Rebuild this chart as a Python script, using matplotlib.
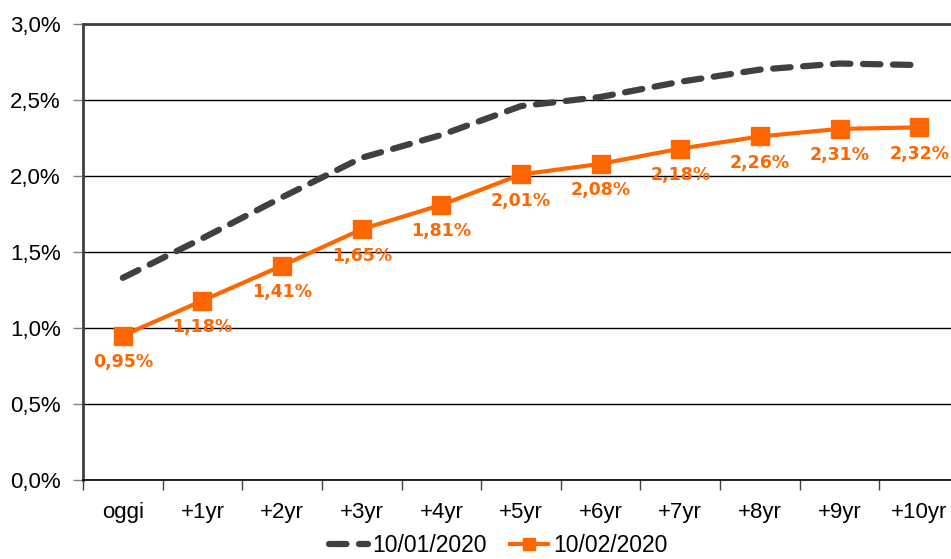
import numpy as np
import matplotlib
matplotlib.use('Agg')
import matplotlib.pyplot as plt
from matplotlib.ticker import FuncFormatter

# dati
categorie = ['oggi', '+1yr', '+2yr', '+3yr', '+4yr', '+5yr',
             '+6yr', '+7yr', '+8yr', '+9yr', '+10yr']
curva_gen = [1.33, 1.59, 1.86, 2.12, 2.27, 2.46, 2.52, 2.62, 2.70, 2.74, 2.73]
curva_feb = [0.95, 1.18, 1.41, 1.65, 1.81, 2.01, 2.08, 2.18, 2.26, 2.31, 2.32]
etichetta_gen = '10/01/2020'
etichetta_feb = '10/02/2020'

grigio = '#404040'
arancio = '#FF6600'

plt.rcParams['font.family'] = ['Liberation Sans', 'DejaVu Sans']

fig = plt.figure(figsize=(9.51, 5.59), dpi=100)
ax = fig.add_axes([83 / 951, 1 - 480 / 559, 1 - 83 / 951, (480 - 24) / 559])

x = np.arange(len(categorie))

ax.plot(x, curva_gen, color=grigio, linewidth=4.5, dashes=(2.8, 2.0),
        dash_capstyle='round', label=etichetta_gen, zorder=3)
ax.plot(x, curva_feb, color=arancio, linewidth=3, marker='s',
        markersize=12.5, label=etichetta_feb, zorder=4)

for xi, v in zip(x, curva_feb):
    ax.annotate(f'{v:.2f}%'.replace('.', ','), (xi, v),
                xytext=(0, -19), textcoords='offset points',
                ha='center', va='center', color=arancio,
                fontsize=12.5, fontweight='bold', family='DejaVu Sans')

ax.set_xlim(-0.5, 10.4)
ax.set_ylim(0, 3.0)
ax.set_yticks(np.arange(0, 3.01, 0.5))
ax.yaxis.set_major_formatter(FuncFormatter(lambda v, p: f'{v:.1f}%'.replace('.', ',')))
ax.yaxis.grid(True, color='black', linewidth=1)
ax.set_axisbelow(True)

ax.set_xticks(np.arange(-0.5, 10.5, 1))
ax.set_xticklabels([])
ax.set_xticks(x, minor=True)
ax.set_xticklabels(categorie, minor=True)

ax.tick_params(axis='x', which='major', length=7, width=1, color=grigio, direction='out')
ax.tick_params(axis='x', which='minor', length=0, pad=16, labelsize=16)
ax.tick_params(axis='y', length=7, width=1, color='#808080', pad=9, labelsize=16)

ax.spines['right'].set_visible(False)
ax.spines['left'].set_color(grigio)
ax.spines['left'].set_linewidth(2)
ax.spines['top'].set_color(grigio)
ax.spines['top'].set_linewidth(2)
ax.spines['bottom'].set_color('black')
ax.spines['bottom'].set_linewidth(1.2)

fig.legend(loc='center', bbox_to_anchor=(498 / 951, 1 - 546 / 559), ncol=2,
           frameon=False, fontsize=16.5, handlelength=1.7, handletextpad=0.2,
           columnspacing=1.0, markerscale=0.7)

fig.savefig('out.png', dpi=100)
